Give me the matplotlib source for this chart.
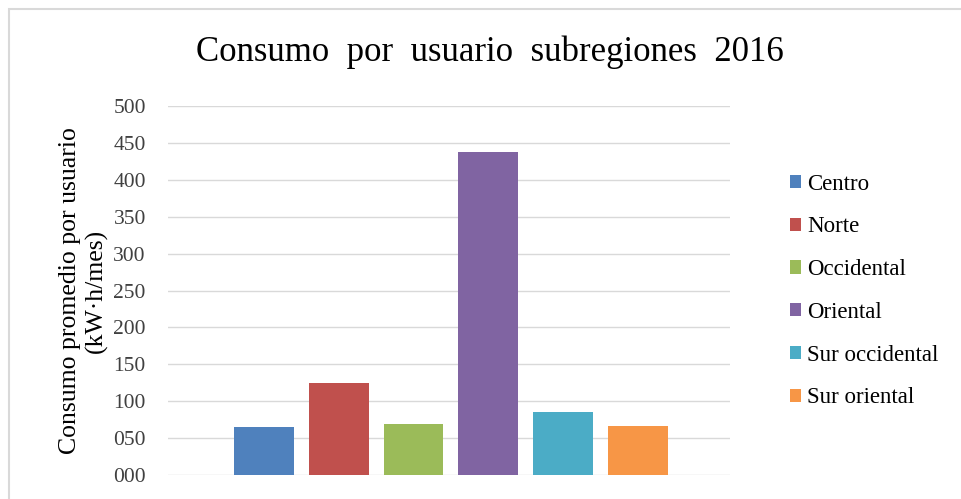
import matplotlib.pyplot as plt
from matplotlib.patches import Rectangle
from matplotlib.ticker import FuncFormatter

# Consumo promedio por usuario por subregión (kW·h/mes), 2016
subregiones = ['Centro', 'Norte', 'Occidental', 'Oriental',
               'Sur occidental', 'Sur oriental']
consumo = [65, 124, 69, 437, 85, 67]
colores = ['#4F81BD', '#C0504D', '#9BBB59', '#8064A2', '#4BACC6', '#F79646']
yticks = [0, 50, 100, 150, 200, 250, 300, 350, 400, 450, 500]

plt.rcParams['font.family'] = ['Liberation Serif', 'DejaVu Serif']

W, H = 961, 499
fig = plt.figure(figsize=(W / 100, H / 100), dpi=100)
ax = fig.add_axes([168 / W, 1 - 475 / H, (730 - 168) / W, (475 - 106) / H])

# marco gris del gráfico (solo se ven los bordes superior e izquierdo)
fig.patches.append(Rectangle((9 / W, -0.1), 1.2, 1 - 9 / H + 0.1,
                             transform=fig.transFigure, fill=False,
                             edgecolor='#d9d9d9', linewidth=1.5))

for i, (nombre, valor) in enumerate(zip(subregiones, consumo)):
    ax.bar(i, valor, width=0.8, color=colores[i], label=nombre, zorder=3)

ax.set_xlim(-1.285, 6.235)
ax.set_ylim(0, 500)
ax.set_yticks(yticks)
ax.yaxis.set_major_formatter(FuncFormatter(lambda v, p: f'{int(v):03d}'))
ax.set_xticks([])
ax.grid(axis='y', color='#d9d9d9', linewidth=1, zorder=0)
for s in ax.spines.values():
    s.set_visible(False)
ax.tick_params(axis='y', length=0, pad=16, labelsize=15.5, labelcolor='#404040')

ax.set_ylabel('Consumo promedio por usuario\n(kW·h/mes)', fontsize=18.5,
              linespacing=1.2, labelpad=4)
fig.text(490 / W, 1 - 52 / H, 'Consumo  por  usuario  subregiones  2016',
         ha='center', va='center', fontsize=25)

ax.legend(loc='center left', bbox_to_anchor=(790 / W, 1 - 291 / H),
          bbox_transform=fig.transFigure, frameon=False, fontsize=16.5,
          handlelength=0.5, handleheight=0.5, handletextpad=0.25,
          labelspacing=0.95, borderaxespad=0, borderpad=0)

fig.savefig('out.png', dpi=100)
